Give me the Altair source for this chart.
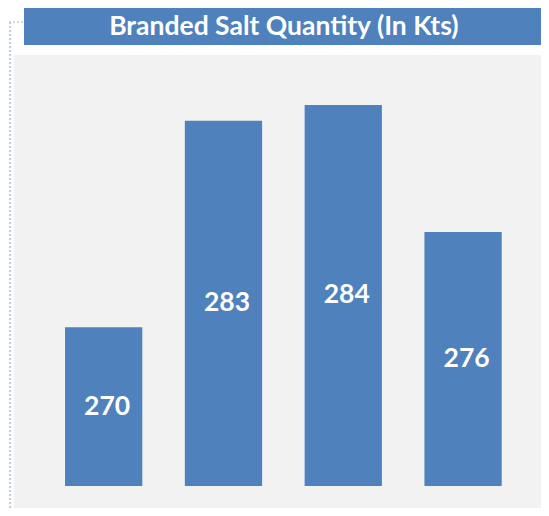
import altair as alt
import pandas as pd

TITLE = "Branded Salt Quantity (In Kts)"
categories = ["Period 1", "Period 2", "Period 3", "Period 4"]
values = [270, 283, 284, 276]
BASE = 260

BLUE = "#4f81bd"
PANEL = "#f2f2f2"
DOTS = "#bccbe6"

df = pd.DataFrame({"category": categories, "value": values})

yscale = alt.Scale(domain=[258.61, 287.15], zero=False, nice=False)
xscale = alt.Scale(paddingInner=0.355, paddingOuter=0.377, align=0.565)

base = alt.Chart(df).encode(
    x=alt.X("category:N", sort=categories, scale=xscale, axis=None)
)

bars = base.mark_bar(color=BLUE).encode(
    y=alt.Y("value:Q", scale=yscale, axis=None),
    y2=alt.datum(BASE),
)

labels = base.transform_calculate(
    mid=f"(datum.value + {BASE}) / 2"
).mark_text(
    color="white", font="Lato", fontSize=26.5, fontWeight="bold",
    baseline="middle", align="center", dx=3.5
).encode(
    y=alt.Y("mid:Q", scale=yscale, axis=None),
    text=alt.Text("value:Q"),
)

one = alt.Data(values=[{"t": TITLE}])

dotted_v = alt.Chart(one).mark_rule(color=DOTS, strokeDash=[2, 2], strokeWidth=2).encode(
    x=alt.value(-4), y=alt.value(-33), y2=alt.value(453)
)
dotted_h = alt.Chart(one).mark_rule(color=DOTS, strokeDash=[2, 2], strokeWidth=1.5).encode(
    x=alt.value(-5), x2=alt.value(20), y=alt.value(-33)
)

banner = alt.Chart(one).mark_rect(color=BLUE).encode(
    x=alt.value(10), x2=alt.value(527), y=alt.value(-47), y2=alt.value(-10)
)

title_text = alt.Chart(one).mark_text(
    color="white", font="Lato", fontSize=26.5, fontWeight="bold",
    baseline="middle", align="center"
).encode(
    x=alt.value(269.8), y=alt.value(-27.8), text="t:N"
)

chart = alt.layer(
    dotted_v, dotted_h, banner, title_text, bars, labels
).properties(
    width=527, height=453,
    autosize=alt.AutoSizeParams(type="none"),
    padding={"left": 6, "top": 47, "right": 0, "bottom": 0},
    background="white",
).configure_view(
    stroke=None, fill=PANEL
)

chart.save("out.html", embed_options={"renderer": "svg", "actions": False})
